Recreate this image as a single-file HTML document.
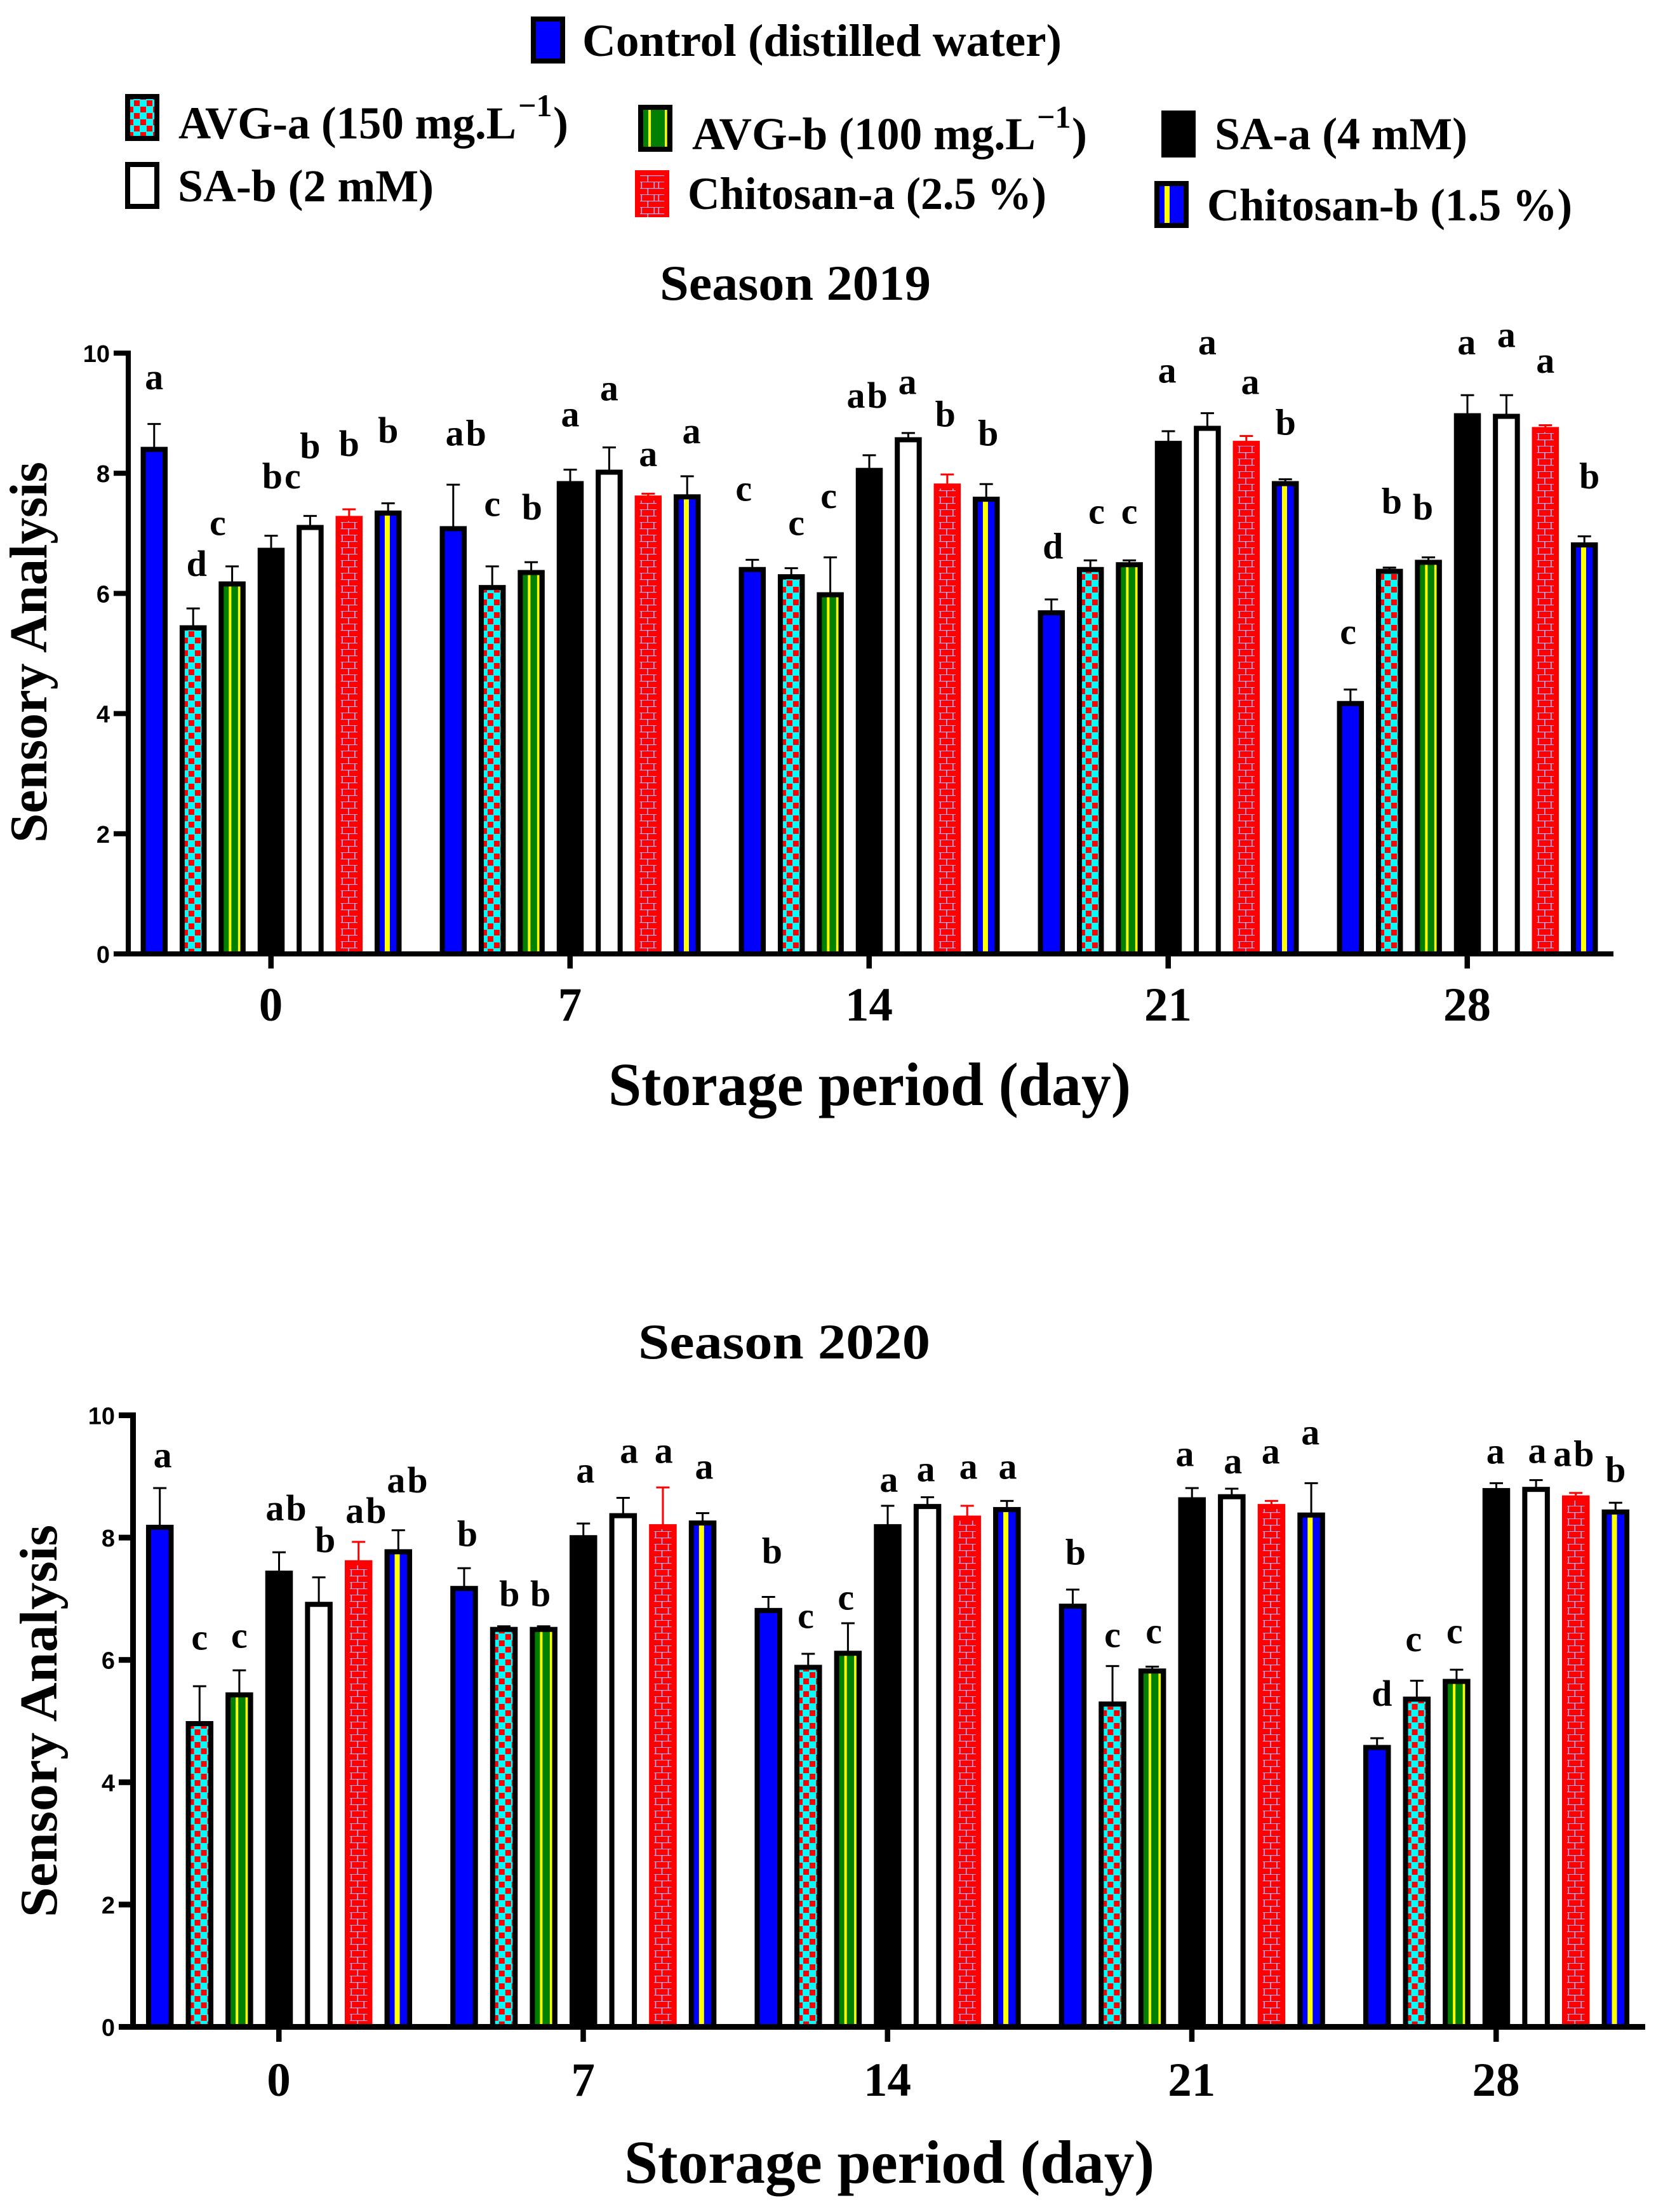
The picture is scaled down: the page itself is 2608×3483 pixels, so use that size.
<!DOCTYPE html>
<html lang="en">
<head>
<meta charset="utf-8">
<title>Sensory Analysis by storage period</title>
<style>
html,body{margin:0;padding:0;background:#fff;}
svg{display:block;}
text{font-family:"Liberation Serif",serif;font-weight:bold;fill:#000;}
.tick-y{font-family:"Liberation Sans",sans-serif;font-size:38px;}
</style>
</head>
<body>
<svg id="figure" xmlns="http://www.w3.org/2000/svg" width="2608" height="3483" viewBox="0 0 2608 3483">
  <defs>
    <pattern id="checker" patternUnits="userSpaceOnUse" x="4" y="6" width="20" height="20">
      <rect x="0" y="0" width="9" height="9" fill="#ff0000"/>
      <rect x="10" y="10" width="9" height="9" fill="#ff0000"/>
    </pattern>
    <pattern id="brick" patternUnits="userSpaceOnUse" x="8" y="5" width="27" height="20">
      <rect x="0" y="9" width="27" height="1.2" fill="#b3b3f5"/>
      <rect x="0" y="19" width="27" height="1.2" fill="#b3b3f5"/>
      <rect x="1.5" y="0" width="1.6" height="9" fill="#b3b3f5"/>
      <rect x="21.5" y="0" width="1.6" height="9" fill="#b3b3f5"/>
      <rect x="11.5" y="10" width="1.6" height="9" fill="#b3b3f5"/>
    </pattern>
  </defs>

  <g id="legend">
    <text x="917" y="88" font-size="72" textLength="755" lengthAdjust="spacingAndGlyphs">Control (distilled water)</text>
    <text x="281" y="218" font-size="72" textLength="532" lengthAdjust="spacingAndGlyphs">AVG-a (150 mg.L</text>
    <text x="816" y="183" font-size="50">−1</text>
    <text x="871" y="218" font-size="72">)</text>
    <text x="1090" y="235" font-size="72" textLength="541" lengthAdjust="spacingAndGlyphs">AVG-b (100 mg.L</text>
    <text x="1633" y="201" font-size="50">−1</text>
    <text x="1688" y="235" font-size="72">)</text>
    <text x="1913" y="235" font-size="72" textLength="398" lengthAdjust="spacingAndGlyphs">SA-a (4 mM)</text>
    <text x="280" y="317" font-size="72" textLength="403" lengthAdjust="spacingAndGlyphs">SA-b (2 mM)</text>
    <text x="1083" y="329" font-size="72" textLength="565" lengthAdjust="spacingAndGlyphs">Chitosan-a (2.5 %)</text>
    <text x="1901" y="347" font-size="72" textLength="575" lengthAdjust="spacingAndGlyphs">Chitosan-b (1.5 %)</text>
  </g>

  <text x="1039" y="472" font-size="78" textLength="427" lengthAdjust="spacingAndGlyphs">Season 2019</text>
  <text transform="translate(73,1327) rotate(-90)" font-size="84" textLength="600" lengthAdjust="spacingAndGlyphs">Sensory Analysis</text>
  <text x="958" y="1740" font-size="96" textLength="823" lengthAdjust="spacingAndGlyphs">Storage period (day)</text>

  <text x="1005" y="2139" font-size="78" textLength="460" lengthAdjust="spacingAndGlyphs">Season 2020</text>
  <text transform="translate(89,3019) rotate(-90)" font-size="84" textLength="618" lengthAdjust="spacingAndGlyphs">Sensory Analysis</text>
  <text x="983" y="3437" font-size="96" textLength="835" lengthAdjust="spacingAndGlyphs">Storage period (day)</text>
</svg>

<script>
const categories = ["0", "7", "14", "21", "28"];
const treatments = ["control", "avg-a", "avg-b", "sa-a", "sa-b", "chitosan-a", "chitosan-b"];
const yTicks = [0, 2, 4, 6, 8, 10];

// Season 2019: one row per storage day, one column per treatment
const means2019 = [
  [8.44, 5.47, 6.20, 6.76, 7.14, 7.29, 7.38],
  [7.12, 6.14, 6.39, 7.87, 8.06, 7.63, 7.65],
  [6.44, 6.32, 6.02, 8.09, 8.60, 7.83, 7.61],
  [5.72, 6.44, 6.52, 8.54, 8.79, 8.54, 7.87],
  [4.21, 6.41, 6.56, 9.00, 8.99, 8.77, 6.85]
];
const errorTops2019 = [
  [8.82, 5.75, 6.45, 6.96, 7.29, 7.40, 7.50],
  [7.81, 6.45, 6.52, 8.06, 8.43, 7.66, 7.95],
  [6.56, 6.42, 6.60, 8.30, 8.67, 7.98, 7.82],
  [5.90, 6.55, 6.55, 8.70, 9.00, 8.62, 7.90],
  [4.40, 6.43, 6.60, 9.30, 9.30, 8.80, 6.95]
];
const letters2019 = [
  ["a", "d", "c", "bc", "b", "b", "b"],
  ["ab", "c", "b", "a", "a", "a", "a"],
  ["c", "c", "c", "ab", "a", "b", "b"],
  ["d", "c", "c", "a", "a", "a", "b"],
  ["c", "b", "b", "a", "a", "a", "b"]
];
// height on the value axis at which each letter sits
const letterLevels2019 = [
  [9.40, 6.29, 6.97, 7.75, 8.25, 8.29, 8.51],
  [8.46, 7.29, 7.23, 8.78, 9.21, 8.12, 8.50],
  [7.54, 6.97, 7.42, 9.09, 9.32, 8.78, 8.46],
  [6.58, 7.16, 7.16, 9.51, 9.98, 9.32, 8.64],
  [5.16, 7.33, 7.23, 9.98, 10.10, 9.67, 7.75]
];
// sideways nudge of each letter, in bar slots
const letterNudges2019 = [
  [0, 0.09, -0.37, 0.29, 0, 0, 0],
  [0.35, 0, 0.02, 0, 0, 0, 0.11],
  [-0.22, 0.13, -0.04, -0.03, -0.02, -0.05, 0.05],
  [0.04, 0.16, 0, -0.03, 0, 0.10, 0.01],
  [-0.06, 0.06, -0.14, -0.02, 0, 0, 0.13]
];

// Season 2020
const means2020 = [
  [8.21, 5.00, 5.47, 7.46, 6.95, 7.63, 7.81],
  [7.21, 6.54, 6.54, 8.04, 8.40, 8.22, 8.28],
  [6.85, 5.92, 6.15, 8.22, 8.55, 8.36, 8.50],
  [6.92, 5.32, 5.86, 8.66, 8.71, 8.55, 8.41],
  [4.61, 5.40, 5.69, 8.81, 8.83, 8.69, 8.46]
];
const errorTops2020 = [
  [8.81, 5.57, 5.83, 7.76, 7.35, 7.93, 8.12],
  [7.50, 6.55, 6.55, 8.23, 8.65, 8.82, 8.40],
  [7.03, 6.10, 6.60, 8.52, 8.66, 8.52, 8.60],
  [7.15, 5.90, 5.89, 8.81, 8.80, 8.60, 8.89],
  [4.72, 5.66, 5.84, 8.89, 8.94, 8.73, 8.57]
];
const letters2020 = [
  ["a", "c", "c", "ab", "b", "ab", "ab"],
  ["b", "b", "b", "a", "a", "a", "a"],
  ["b", "c", "c", "a", "a", "a", "a"],
  ["b", "c", "c", "a", "a", "a", "a"],
  ["d", "c", "c", "a", "a", "ab", "b"]
];
const letterLevels2020 = [
  [9.15, 6.17, 6.20, 8.28, 7.76, 8.24, 8.74],
  [7.86, 6.88, 6.88, 8.90, 9.22, 9.22, 8.96],
  [7.58, 6.52, 6.82, 8.75, 8.92, 8.96, 8.96],
  [7.56, 6.21, 6.27, 9.17, 9.05, 9.21, 9.52],
  [5.25, 6.14, 6.27, 9.21, 9.22, 9.17, 8.91]
];
const letterNudges2020 = [
  [0.07, 0, 0, 0.20, 0.16, 0.21, 0.25],
  [0.08, 0.14, -0.08, 0.05, 0.15, 0.02, 0.04],
  [0.09, -0.06, -0.05, 0.03, -0.04, 0.03, 0.02],
  [0.07, 0, 0.04, -0.18, 0.03, -0.02, -0.02],
  [0.12, -0.08, -0.05, -0.02, 0.03, -0.03, 0]
];

const svg = document.getElementById("figure");
const NS = "http://www.w3.org/2000/svg";

function make(parent, tag, attrs, content) {
  const el = document.createElementNS(NS, tag);
  for (const k in attrs) el.setAttribute(k, attrs[k]);
  if (content !== undefined) el.textContent = content;
  parent.appendChild(el);
  return el;
}

// Draws a treatment's body in a group whose origin is the bottom-left of the bar
function drawBody(parent, treatment, w, h) {
  const b = 8;
  const innerW = w - 2 * b;
  const innerH = Math.max(0, h - b);
  const innerY = -innerH;
  if (treatment === "chitosan-a") {
    make(parent, "rect", {x: 0, y: -h, width: w, height: h, fill: "#ff0000"});
    make(parent, "rect", {x: b, y: innerY, width: innerW, height: innerH, fill: "url(#brick)"});
    return;
  }
  make(parent, "rect", {x: 0, y: -h, width: w, height: h, fill: "#000000"});
  if (treatment === "control") {
    make(parent, "rect", {x: b, y: innerY, width: innerW, height: innerH, fill: "#0000ff"});
  } else if (treatment === "avg-a") {
    make(parent, "rect", {x: b, y: innerY, width: innerW, height: innerH, fill: "#00ffff"});
    make(parent, "rect", {x: b, y: innerY, width: innerW, height: innerH, fill: "url(#checker)"});
  } else if (treatment === "avg-b") {
    make(parent, "rect", {x: b, y: innerY, width: innerW, height: innerH, fill: "#008000"});
    make(parent, "rect", {x: 16, y: innerY, width: 4, height: innerH, fill: "#ffff00"});
    make(parent, "rect", {x: w - 12, y: innerY, width: 3.5, height: innerH, fill: "#ffff00"});
  } else if (treatment === "sa-b") {
    make(parent, "rect", {x: b, y: innerY, width: innerW, height: innerH, fill: "#ffffff"});
  } else if (treatment === "chitosan-b") {
    make(parent, "rect", {x: b, y: innerY, width: innerW, height: innerH, fill: "#0000ff"});
    make(parent, "rect", {x: 16, y: innerY, width: 8, height: innerH, fill: "#ffff00"});
  }
}

function drawChart(cfg) {
  const yScale = v => cfg.zeroY - cfg.unit * v;
  const groupX = g => cfg.firstX + cfg.groupStep * g;
  const barX = (g, s) => groupX(g) + cfg.barStep * (s - 3);
  const half = cfg.lineW / 2;

  const root = make(svg, "g", {});
  
  

  cfg.means.forEach((row, g) => {
    row.forEach((value, s) => {
      const treatment = treatments[s];
      const cx = barX(g, s);
      const top = yScale(value);
      const bottom = cfg.zeroY - half;
      const errTop = yScale(cfg.errorTops[g][s]);
      const color = treatment === "chitosan-a" ? "#ff0000" : "#000000";

      const err = make(root, "g", {});
      
      
      make(err, "rect", {x: cx - 1.5, y: errTop, width: 3, height: Math.max(0, top - errTop + 2), fill: color});
      make(err, "rect", {x: cx - 10.5, y: errTop - 1.5, width: 21, height: 3, fill: color});

      const bar = make(root, "g", {transform: "translate(" + (cx - cfg.barW / 2) + "," + bottom + ")"});
      
      
      drawBody(bar, treatment, cfg.barW, bottom - top);

      const letter = make(root, "text", {
        x: cx + cfg.letterNudges[g][s] * cfg.barStep,
        y: yScale(cfg.letterLevels[g][s]),
        "text-anchor": "middle",
        "font-size": 58,
        "letter-spacing": cfg.letters[g][s].length > 1 ? 3 : 0
      }, cfg.letters[g][s]);
      
      
    });
  });

  // Axes
  const yAxis = make(root, "rect", {x: cfg.axisX, y: yScale(10) - half, width: cfg.lineW, height: yScale(0) - yScale(10) + cfg.lineW, fill: "#000"});
  
  

  const xAxis = make(root, "rect", {x: cfg.tickLeft, y: cfg.zeroY - half, width: cfg.axisRight - cfg.tickLeft, height: cfg.lineW, fill: "#000"});
  
  

  yTicks.forEach(v => {
    const mark = make(root, "rect", {x: cfg.tickLeft, y: yScale(v) - half, width: cfg.axisX - cfg.tickLeft, height: cfg.lineW, fill: "#000"});
    
    
    const label = make(root, "text", {x: cfg.tickLeft - 6, y: yScale(v) + 14, "text-anchor": "end", "class": "tick-y"}, String(v));
    
    
  });

  categories.forEach((name, g) => {
    const mark = make(root, "rect", {x: groupX(g) - 4.5, y: cfg.zeroY + half - 1, width: 8.5, height: cfg.tickDown, fill: "#000"});
    
    
    const label = make(root, "text", {x: groupX(g) - 0.5, y: cfg.xLabelY, "text-anchor": "middle", "font-size": 75}, name);
    
    
  });
}

drawChart({
  season: "2019", means: means2019, errorTops: errorTops2019, letters: letters2019,
  letterLevels: letterLevels2019, letterNudges: letterNudges2019,
  zeroY: 1502, unit: 94.6, firstX: 427, groupStep: 471, barStep: 61.4, barW: 42.5,
  lineW: 8, axisX: 198, tickLeft: 179, axisRight: 2541, tickDown: 20, xLabelY: 1607
});

drawChart({
  season: "2020", means: means2020, errorTops: errorTops2020, letters: letters2020,
  letterLevels: letterLevels2020, letterNudges: letterNudges2020,
  zeroY: 3191.5, unit: 96.3, firstX: 439.5, groupStep: 479.25, barStep: 62.6, barW: 43.5,
  lineW: 9, axisX: 205, tickLeft: 187, axisRight: 2591, tickDown: 20, xLabelY: 3300
});

// Legend swatches
const legendGroup = document.getElementById("legend");
const swatchTreatments = ["control", "avg-a", "avg-b", "sa-a", "sa-b", "chitosan-a", "chitosan-b"];
const swatchSpots = [
  {left: 836, bottom: 100},
  {left: 197, bottom: 222},
  {left: 1005, bottom: 239},
  {left: 1829, bottom: 248},
  {left: 197, bottom: 329},
  {left: 1000, bottom: 342},
  {left: 1818, bottom: 359}
];
swatchTreatments.forEach((treatment, i) => {
  const spot = swatchSpots[i];
  const swatch = make(legendGroup, "g", {transform: "translate(" + spot.left + "," + spot.bottom + ")"});
  
  
  make(swatch, "rect", {x: 0, y: -74, width: 54, height: 74, fill: "#000"});
  drawBody(swatch, treatment, 54, 74);
  if (treatment !== "chitosan-a" && treatment !== "sa-a") {
    make(swatch, "rect", {x: 0, y: -8, width: 54, height: 8, fill: "#000"});
  }
});
</script>
</body>
</html>
